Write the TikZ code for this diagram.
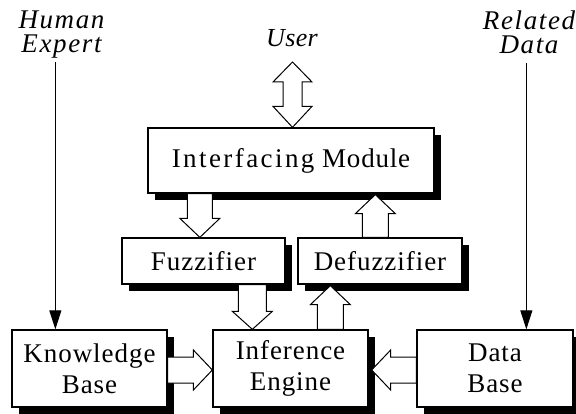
\documentclass[tikz,border=0pt]{standalone}
\usepackage{fontspec}
\setmainfont{Liberation Serif}
\usetikzlibrary{arrows.meta,calc,shadows}
\newcommand\blockarrow[5]{%
  \coordinate (ba-h) at ($(#2)!#5!(#1)$);
  \draw[barrow] ($(#1)!#3!90:(#2)$) -- ($(ba-h)!#3!90:(#2)$) -- ($(ba-h)!#4!90:(#2)$)
    -- (#2) -- ($(ba-h)!#4!-90:(#2)$) -- ($(ba-h)!#3!-90:(#2)$) -- ($(#1)!#3!-90:(#2)$) -- cycle;
}
\begin{document}
\begin{tikzpicture}[x=1pt,y=-1pt,
  box/.style={draw, line width=1.3pt, fill=white, inner sep=0pt, align=center,
    font=\fontsize{27}{31}\selectfont\addfontfeature{LetterSpace=3.5},
    drop shadow={shadow xshift=7pt, shadow yshift=-7pt, fill=black, opacity=1}},
  lbl/.style={inner sep=0pt, align=center, font=\fontsize{27}{24}\selectfont\itshape\addfontfeature{LetterSpace=6}},
  barrow/.style={draw, line width=1pt, fill=white, line join=miter},
  thin/.style={line width=1pt, -{Triangle[length=19pt,width=12pt]}}]
\useasboundingbox (0,0) rectangle (576,414);
% boxes
\node[box, minimum width=286pt, minimum height=65pt] (im) at (291,160.5)
  {{\addfontfeature{LetterSpace=9}Interfacing} {\addfontfeature{LetterSpace=3}Module}};
\node[box, minimum width=163pt, minimum height=46pt] (fz) at (203.5,261) {Fuzzifier};
\node[box, minimum width=164pt, minimum height=46pt] (dz) at (380,261) {Defuzzifier};
\node[box, minimum width=155pt, minimum height=77pt] (kb) at (89.5,368.5) {Knowledge\\Base};
\node[box, minimum width=155pt, minimum height=77pt] (ie) at (290.5,368.5) {Inference\\Engine};
\node[box, minimum width=156pt, minimum height=77pt] (db) at (495,368.5) {Data\\Base};
% labels
\node[lbl] (he) at (61.5,35) {Human\\Expert};
\node[lbl] (rd) at (529,32.5) {Related\\Data};
\node[lbl, anchor=base, font=\fontsize{26}{26}\selectfont\itshape\addfontfeature{LetterSpace=1.5}] (user) at (292,47) {User};
% thin arrows
\coordinate (hx) at ($(kb.north west)+(44,0)$);
\draw[thin] (hx |- he.south) ++(0,3) -- (hx);
\coordinate (rx) at ($(db.north west)+(110,0)$);
\draw[thin] (rx |- rd.south) ++(0,9) -- (rx);
% user double arrow
\coordinate (ut) at ($(user.base)+(0.5,15)$);
\coordinate (ub) at ($(im.north)+(1.5,0)$);
\draw[barrow] (ut) -- ($(ut)+(19.5,20)$) -- ($(ut)+(9.5,20)$) -- ($(ub)+(9.5,-21)$)
  -- ($(ub)+(19.5,-21)$) -- (ub) -- ($(ub)+(-19.5,-21)$) -- ($(ub)+(-9.5,-21)$)
  -- ($(ut)+(-9.5,20)$) -- ($(ut)+(-19.5,20)$) -- cycle;
% block arrows
\coordinate (a1s) at ($(im.south west)+(52.5,0)$);
\coordinate (a1e) at ($(fz.north west)+(78.5,0)$);
\blockarrow{a1s}{a1e}{12.5pt}{20pt}{19pt}
\coordinate (a2s) at ($(fz.south west)+(131,0)$);
\coordinate (a2e) at ($(ie.north west)+(40,0)$);
\blockarrow{a2s}{a2e}{14pt}{20pt}{18pt}
\coordinate (a3s) at ($(ie.north west)+(118,0)$);
\coordinate (a3e) at ($(dz.south west)+(33,1)$);
\blockarrow{a3s}{a3e}{13pt}{20pt}{19pt}
\coordinate (a4s) at ($(dz.north west)+(78,0)$);
\coordinate (a4e) at ($(im.south west)+(228,1)$);
\blockarrow{a4s}{a4e}{13pt}{20pt}{19pt}
\coordinate (a5s) at ($(kb.east)+(0,1.5)$);
\coordinate (a5e) at ($(ie.west)+(0,1.5)$);
\blockarrow{a5s}{a5e}{13pt}{20pt}{19pt}
\coordinate (a6s) at ($(db.west)+(0,1.5)$);
\coordinate (a6e) at ($(ie.east)+(3,1.5)$);
\blockarrow{a6s}{a6e}{13pt}{20pt}{19pt}
\end{tikzpicture}
\end{document}
